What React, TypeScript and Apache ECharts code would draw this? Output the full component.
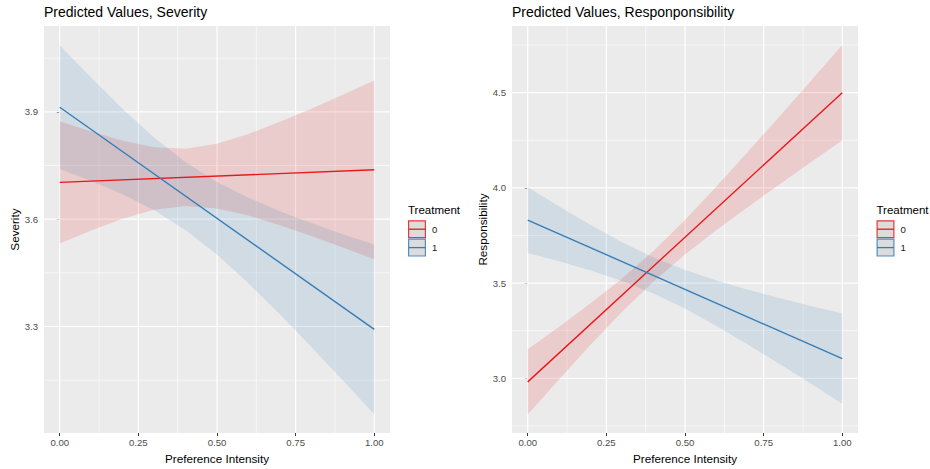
import React, { useEffect, useRef } from "react";
import * as echarts from "echarts";

// ---------- shared ----------
const xTicks = [0, 0.25, 0.5, 0.75, 1];
const xMinor = [0.125, 0.375, 0.625, 0.875];
const bandX = [0, 0.1, 0.2, 0.3, 0.4, 0.5, 0.6, 0.7, 0.8, 0.9, 1];
const lineX = [0, 1];
const treatmentLevels = ["0", "1"];
const treatmentColors = ["#e41a1c", "#377eb8"];
const bandFills = ["rgba(228,26,28,0.15)", "rgba(55,126,184,0.15)"];

// ---------- Severity panel ----------
const sevTitle = "Predicted Values, Severity";
const sevYName = "Severity";
const sevYTicks = [3.3, 3.6, 3.9];
const sevYMinor = [3.15, 3.45, 3.75, 4.05];
const sevYRange = [3.002, 4.14];
const sevLine0 = [3.703, 3.738];
const sevLine1 = [3.913, 3.292];
const sevLo0 = [3.532, 3.568, 3.601, 3.626, 3.637, 3.63, 3.61, 3.583, 3.553, 3.521, 3.488];
const sevHi0 = [3.874, 3.845, 3.819, 3.801, 3.797, 3.811, 3.838, 3.872, 3.909, 3.948, 3.988];
const sevLo1 = [3.74, 3.707, 3.67, 3.625, 3.57, 3.501, 3.421, 3.334, 3.243, 3.15, 3.055];
const sevHi1 = [4.086, 3.995, 3.908, 3.828, 3.759, 3.704, 3.66, 3.622, 3.589, 3.558, 3.529];

// ---------- Responsibility panel ----------
const resTitle = "Predicted Values, Responponsibility";
const resYName = "Responsibility";
const resYTicks = [3.0, 3.5, 4.0, 4.5];
const resYMinor = [2.75, 3.25, 3.75, 4.25, 4.75];
const resYRange = [2.712, 4.85];
const resLine0 = [2.981, 4.5];
const resLine1 = [3.831, 3.103];
const resLo0 = [2.81, 2.995, 3.176, 3.349, 3.508, 3.65, 3.778, 3.9, 4.018, 4.135, 4.25];
const resHi0 = [3.152, 3.271, 3.394, 3.524, 3.669, 3.831, 4.007, 4.189, 4.374, 4.561, 4.75];
const resLo1 = [3.658, 3.614, 3.566, 3.511, 3.445, 3.366, 3.275, 3.177, 3.076, 2.972, 2.866];
const resHi1 = [4.004, 3.902, 3.805, 3.714, 3.634, 3.568, 3.513, 3.465, 3.422, 3.38, 3.34];

const xName = "Preference Intensity";
const legendTitle = "Treatment";

const FONT = "'Liberation Sans', Arial, Helvetica, sans-serif";

function bandSeries(idx: number, lo: number[], hi: number[], fill: string) {
  return {
    type: "custom",
    xAxisIndex: idx,
    yAxisIndex: idx,
    silent: true,
    clip: true,
    z: 2,
    data: bandX.map((x, i) => [x, lo[i], hi[i]]),
    encode: { x: 0, y: [1, 2] },
    renderItem: (params: any, api: any) => {
      if (params.dataIndex !== 0) return null;
      const top = bandX.map((x, i) => api.coord([x, hi[i]]));
      const bot = bandX.map((x, i) => api.coord([x, lo[i]])).reverse();
      return {
        type: "polygon",
        shape: { points: top.concat(bot) },
        style: { fill },
      };
    },
  };
}

function lineSeries(idx: number, ys: number[], color: string, z: number) {
  return {
    type: "line",
    xAxisIndex: idx,
    yAxisIndex: idx,
    silent: true,
    symbol: "none",
    z,
    data: lineX.map((x, i) => [x, ys[i]]),
    lineStyle: { color, width: 1.4 },
  };
}

function gridLineSeries(idx: number, vals: number[], horizontal: boolean, width: number) {
  return {
    type: "custom",
    xAxisIndex: idx,
    yAxisIndex: idx,
    silent: true,
    z: 1,
    data: vals.map((v) => [v]),
    renderItem: (params: any, api: any) => {
      const cs = params.coordSys;
      const v = api.value(0);
      if (horizontal) {
        const y = api.coord([0, v])[1];
        return {
          type: "line",
          shape: { x1: cs.x, y1: y, x2: cs.x + cs.width, y2: y },
          style: { stroke: "#ffffff", lineWidth: width },
        };
      }
      const x = api.coord([v, 0])[0];
      return {
        type: "line",
        shape: { x1: x, y1: cs.y, x2: x, y2: cs.y + cs.height },
        style: { stroke: "#ffffff", lineWidth: width },
      };
    },
  };
}

function xAxisCfg(idx: number) {
  return {
    type: "value",
    gridIndex: idx,
    min: -0.05,
    max: 1.05,
    axisLine: { show: false },
    axisTick: { show: true, length: 3, lineStyle: { color: "#333333", width: 1 }, customValues: xTicks },
    axisLabel: {
      customValues: xTicks,
      formatter: (v: number) => v.toFixed(2),
      color: "#4d4d4d",
      fontSize: 9.6,
      fontFamily: FONT,
      margin: 4,
    },
    splitLine: { show: false },
    name: xName,
    nameLocation: "middle",
    nameGap: 17,
    nameTextStyle: { color: "#000000", fontSize: 11.7, fontFamily: FONT },
  };
}

function yAxisCfg(idx: number, range: number[], ticks: number[], name: string) {
  return {
    type: "value",
    gridIndex: idx,
    min: range[0],
    max: range[1],
    axisLine: { show: false },
    axisTick: { show: true, length: 3, lineStyle: { color: "#333333", width: 1 }, customValues: ticks },
    axisLabel: {
      customValues: ticks,
      formatter: (v: number) => v.toFixed(1),
      color: "#4d4d4d",
      fontSize: 9.6,
      fontFamily: FONT,
      margin: 6,
    },
    splitLine: { show: false },
    name,
    nameLocation: "middle",
    nameRotate: 90,
    nameGap: 23,
    nameTextStyle: { color: "#000000", fontSize: 11.7, fontFamily: FONT },
  };
}

function legendGraphics(x: number) {
  const els: any[] = [
    {
      type: "text",
      x,
      y: 209.5,
      silent: true,
      style: { text: legendTitle, fontSize: 11.5, fontFamily: FONT, fill: "#000000", align: "left", verticalAlign: "middle" },
    },
  ];
  const keyTops = [220.8, 239.2];
  treatmentLevels.forEach((lvl, i) => {
    const top = keyTops[i];
    els.push({
      type: "rect",
      silent: true,
      shape: { x: x + 0.6, y: top, width: 16.8, height: 16.8 },
      style: { fill: "#d6d6d6", stroke: treatmentColors[i], lineWidth: 1.2, opacity: 0.85 },
    });
    els.push({
      type: "line",
      silent: true,
      shape: { x1: x + 0.6, y1: top + 8.4, x2: x + 17.4, y2: top + 8.4 },
      style: { stroke: treatmentColors[i], lineWidth: 1.3 },
    });
    els.push({
      type: "text",
      x: x + 24,
      y: top + 8.4,
      silent: true,
      style: { text: lvl, fontSize: 9.6, fontFamily: FONT, fill: "#1a1a1a", align: "left", verticalAlign: "middle" },
    });
  });
  return els;
}

export default function App() {
  const ref = useRef<HTMLDivElement>(null);
  useEffect(() => {
    document.body.style.margin = "0";
    if (!ref.current) return;
    const chart = echarts.init(ref.current, undefined, { renderer: "svg" });
    const option: any = {
      animation: false,
      backgroundColor: "#ffffff",
      title: [
        { text: sevTitle, left: 44, top: 5, padding: 0, textStyle: { fontSize: 14, fontWeight: "normal", color: "#000000", fontFamily: FONT } },
        { text: resTitle, left: 512, top: 5, padding: 0, textStyle: { fontSize: 14, fontWeight: "normal", color: "#000000", fontFamily: FONT } },
      ],
      grid: [
        { left: 44, top: 26, width: 346, height: 408, show: true, backgroundColor: "#ebebeb", borderWidth: 0 },
        { left: 512, top: 26, width: 346, height: 408, show: true, backgroundColor: "#ebebeb", borderWidth: 0 },
      ],
      xAxis: [xAxisCfg(0), xAxisCfg(1)],
      yAxis: [
        yAxisCfg(0, sevYRange, sevYTicks, sevYName),
        yAxisCfg(1, resYRange, resYTicks, resYName),
      ],
      series: [
        gridLineSeries(0, sevYMinor, true, 0.6),
        gridLineSeries(0, xMinor, false, 0.6),
        gridLineSeries(1, resYMinor, true, 0.6),
        gridLineSeries(1, xMinor, false, 0.6),
        gridLineSeries(0, sevYTicks, true, 1.2),
        gridLineSeries(0, xTicks, false, 1.2),
        gridLineSeries(1, resYTicks, true, 1.2),
        gridLineSeries(1, xTicks, false, 1.2),
        bandSeries(0, sevLo0, sevHi0, bandFills[0]),
        bandSeries(0, sevLo1, sevHi1, bandFills[1]),
        bandSeries(1, resLo0, resHi0, bandFills[0]),
        bandSeries(1, resLo1, resHi1, bandFills[1]),
        lineSeries(0, sevLine0, treatmentColors[0], 3),
        lineSeries(0, sevLine1, treatmentColors[1], 3),
        lineSeries(1, resLine0, treatmentColors[0], 3),
        lineSeries(1, resLine1, treatmentColors[1], 3),
      ],
      graphic: [...legendGraphics(408), ...legendGraphics(876.5)],
    };
    chart.setOption(option);
    return () => chart.dispose();
  }, []);
  return <div ref={ref} style={{ width: 930, height: 469 }} />;
}
